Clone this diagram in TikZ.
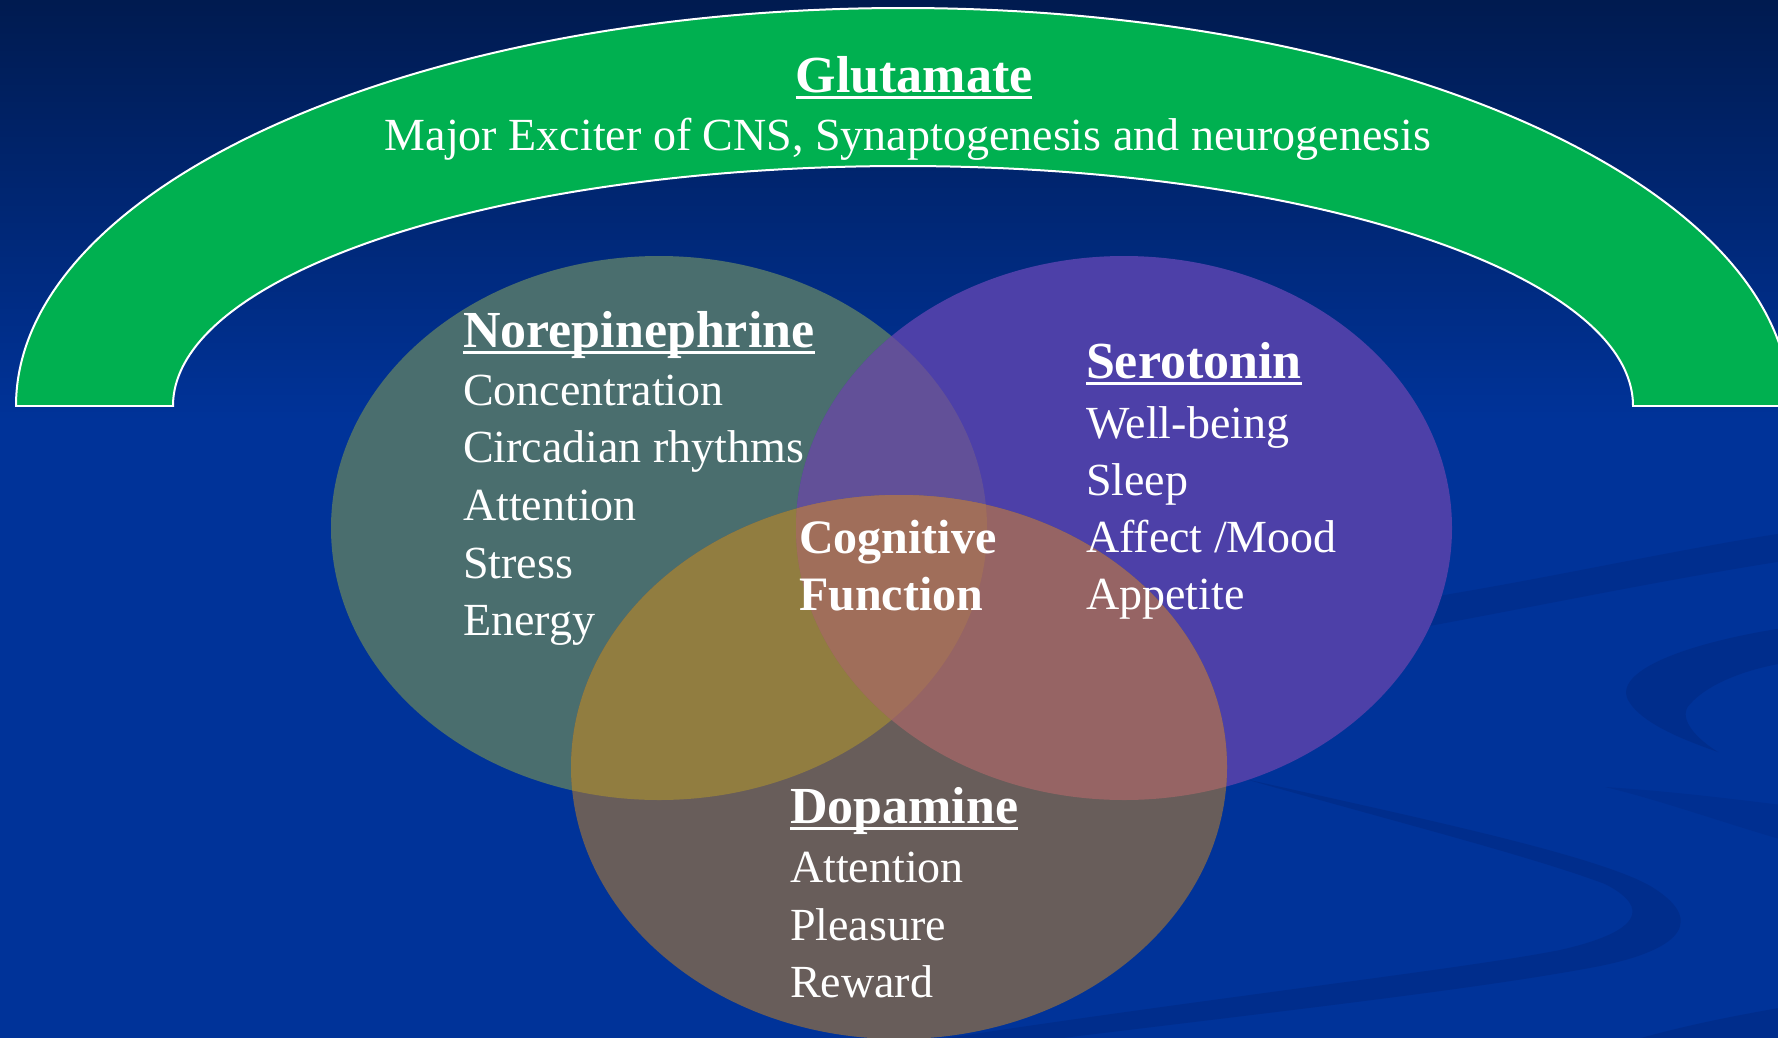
\documentclass[tikz,border=0pt]{standalone}
\usepackage{fontspec}
\setmainfont{Liberation Serif}
\definecolor{bgtop}{HTML}{001A4E}
\definecolor{bgblue}{HTML}{003399}
\definecolor{swirl}{HTML}{002D8C}
\definecolor{glu}{HTML}{00B050}
\definecolor{necol}{HTML}{4A6E6E}
\definecolor{secol}{HTML}{4D40A8}
\definecolor{dacol}{HTML}{685D5A}
\definecolor{nesecol}{HTML}{625098}
\definecolor{nedacol}{HTML}{917D40}
\definecolor{sedacol}{HTML}{966464}
\definecolor{allcol}{HTML}{A06E5A}
\begin{document}
\begin{tikzpicture}[x=1pt,y=-1pt,
  lbl/.style={text=white, inner sep=0pt, outer sep=0pt, anchor=base west,
    font=\fontsize{46}{46}\selectfont},
  hd/.style={lbl, font=\fontsize{52}{52}\selectfont\bfseries},
  cog/.style={lbl, font=\fontsize{48}{48}\selectfont\bfseries},
  ul/.style={white, line width=3pt},
  rim/.style={white, line width=2pt},
]
\useasboundingbox (0,0) rectangle (1778,1037);
\begin{pgfinterruptboundingbox}

% background with darker top
\fill[bgblue] (-10,-10) rectangle (1788,1047);
\shade[top color=bgtop, bottom color=bgblue] (-10,-10) rectangle (1788,420);

% faint swirls in the lower right
\begin{scope}
\clip (-10,-10) rectangle (1788,1047);
\fill[swirl] (1245,779) .. controls (1420,818) and (1600,856) .. (1652,887)
  .. controls (1702,918) and (1688,948) .. (1600,966)
  .. controls (1450,995) and (1150,1025) .. (850,1065)
  -- (780,1065) .. controls (1100,1010) and (1450,972) .. (1560,950)
  .. controls (1640,932) and (1652,908) .. (1605,884)
  .. controls (1530,856) and (1400,823) .. cycle;
\fill[swirl] (1790,627) .. controls (1700,640) and (1612,668) .. (1628,700)
  .. controls (1642,725) and (1690,742) .. (1718,752)
  .. controls (1692,736) and (1678,716) .. (1690,704)
  .. controls (1710,682) and (1750,668) .. (1790,662) -- cycle;
\fill[swirl, opacity=0.8] (1380,605) .. controls (1520,585) and (1660,552) .. (1790,532)
  -- (1790,560) .. controls (1660,580) and (1520,610) .. (1380,635) -- cycle;
\fill[swirl, opacity=0.6] (1605,787) .. controls (1680,792) and (1740,800) .. (1790,806)
  -- (1790,842) .. controls (1730,825) and (1660,800) .. cycle;
\fill[swirl] (1600,1050) .. controls (1680,1025) and (1740,1015) .. (1790,1006)
  -- (1790,1050) -- cycle;
\end{scope}

% glutamate arch
\begin{scope}
\clip (-10,-10) rectangle (1800,406);
\fill[glu, even odd rule] (903,406) ellipse [x radius=887pt, y radius=398pt]
  (903,406) ellipse [x radius=730pt, y radius=240pt];
\draw[rim] (903,406) ellipse [x radius=887pt, y radius=398pt]
  (903,406) ellipse [x radius=730pt, y radius=240pt];
\end{scope}
\draw[rim] (16,406) -- (173,406) (1633,406) -- (1790,406);

% the three overlapping ellipses
\def\neshape{(659,528) ellipse [x radius=328pt, y radius=272pt]}
\def\seshape{(1124,528) ellipse [x radius=328pt, y radius=272pt]}
\def\dashape{(899,767) ellipse [x radius=328pt, y radius=272pt]}
\fill[necol] \neshape;
\fill[secol] \seshape;
\fill[dacol] \dashape;
\begin{scope}\clip \neshape; \fill[nesecol] \seshape; \end{scope}
\begin{scope}\clip \neshape; \fill[nedacol] \dashape; \end{scope}
\begin{scope}\clip \seshape; \fill[sedacol] \dashape; \end{scope}
\begin{scope}\clip \neshape; \clip \seshape; \fill[allcol] \dashape; \end{scope}

% glutamate text
\node[hd, anchor=base] (glut) at (914,92) {Glutamate};
\draw[ul] ([yshift=-5.5pt]glut.base west) -- ([yshift=-5.5pt]glut.base east);
\node[lbl, anchor=base] (glutsub) at (908,150) {Major Exciter of CNS, Synaptogenesis and neurogenesis};

% norepinephrine
\node[hd] (ne) at (463,347) {Norepinephrine};
\draw[ul] ([yshift=-5.5pt]ne.base west) -- ([yshift=-5.5pt]ne.base east);
\node[lbl] (ne1) at (463,405) {Concentration};
\node[lbl] (ne2) at (463,462) {Circadian rhythms};
\node[lbl] (ne3) at (463,520) {Attention};
\node[lbl] (ne4) at (463,578) {Stress};
\node[lbl] (ne5) at (463,635) {Energy};

% serotonin
\node[hd] (se) at (1086,378) {Serotonin};
\draw[ul] ([yshift=-5.5pt]se.base west) -- ([yshift=-5.5pt]se.base east);
\node[lbl] (se1) at (1086,438) {Well-being};
\node[lbl] (se2) at (1086,495) {Sleep};
\node[lbl] (se3) at (1086,552) {Affect /Mood};
\node[lbl] (se4) at (1086,609) {Appetite};

% dopamine
\node[hd] (da) at (790,823) {Dopamine};
\draw[ul] ([yshift=-5.5pt]da.base west) -- ([yshift=-5.5pt]da.base east);
\node[lbl] (da1) at (790,882) {Attention};
\node[lbl] (da2) at (790,940) {Pleasure};
\node[lbl] (da3) at (790,997) {Reward};

% centre
\node[cog] (cog1) at (799,553) {Cognitive};
\node[cog] (cog2) at (799,610) {Function};
\end{pgfinterruptboundingbox}
\end{tikzpicture}
\end{document}
